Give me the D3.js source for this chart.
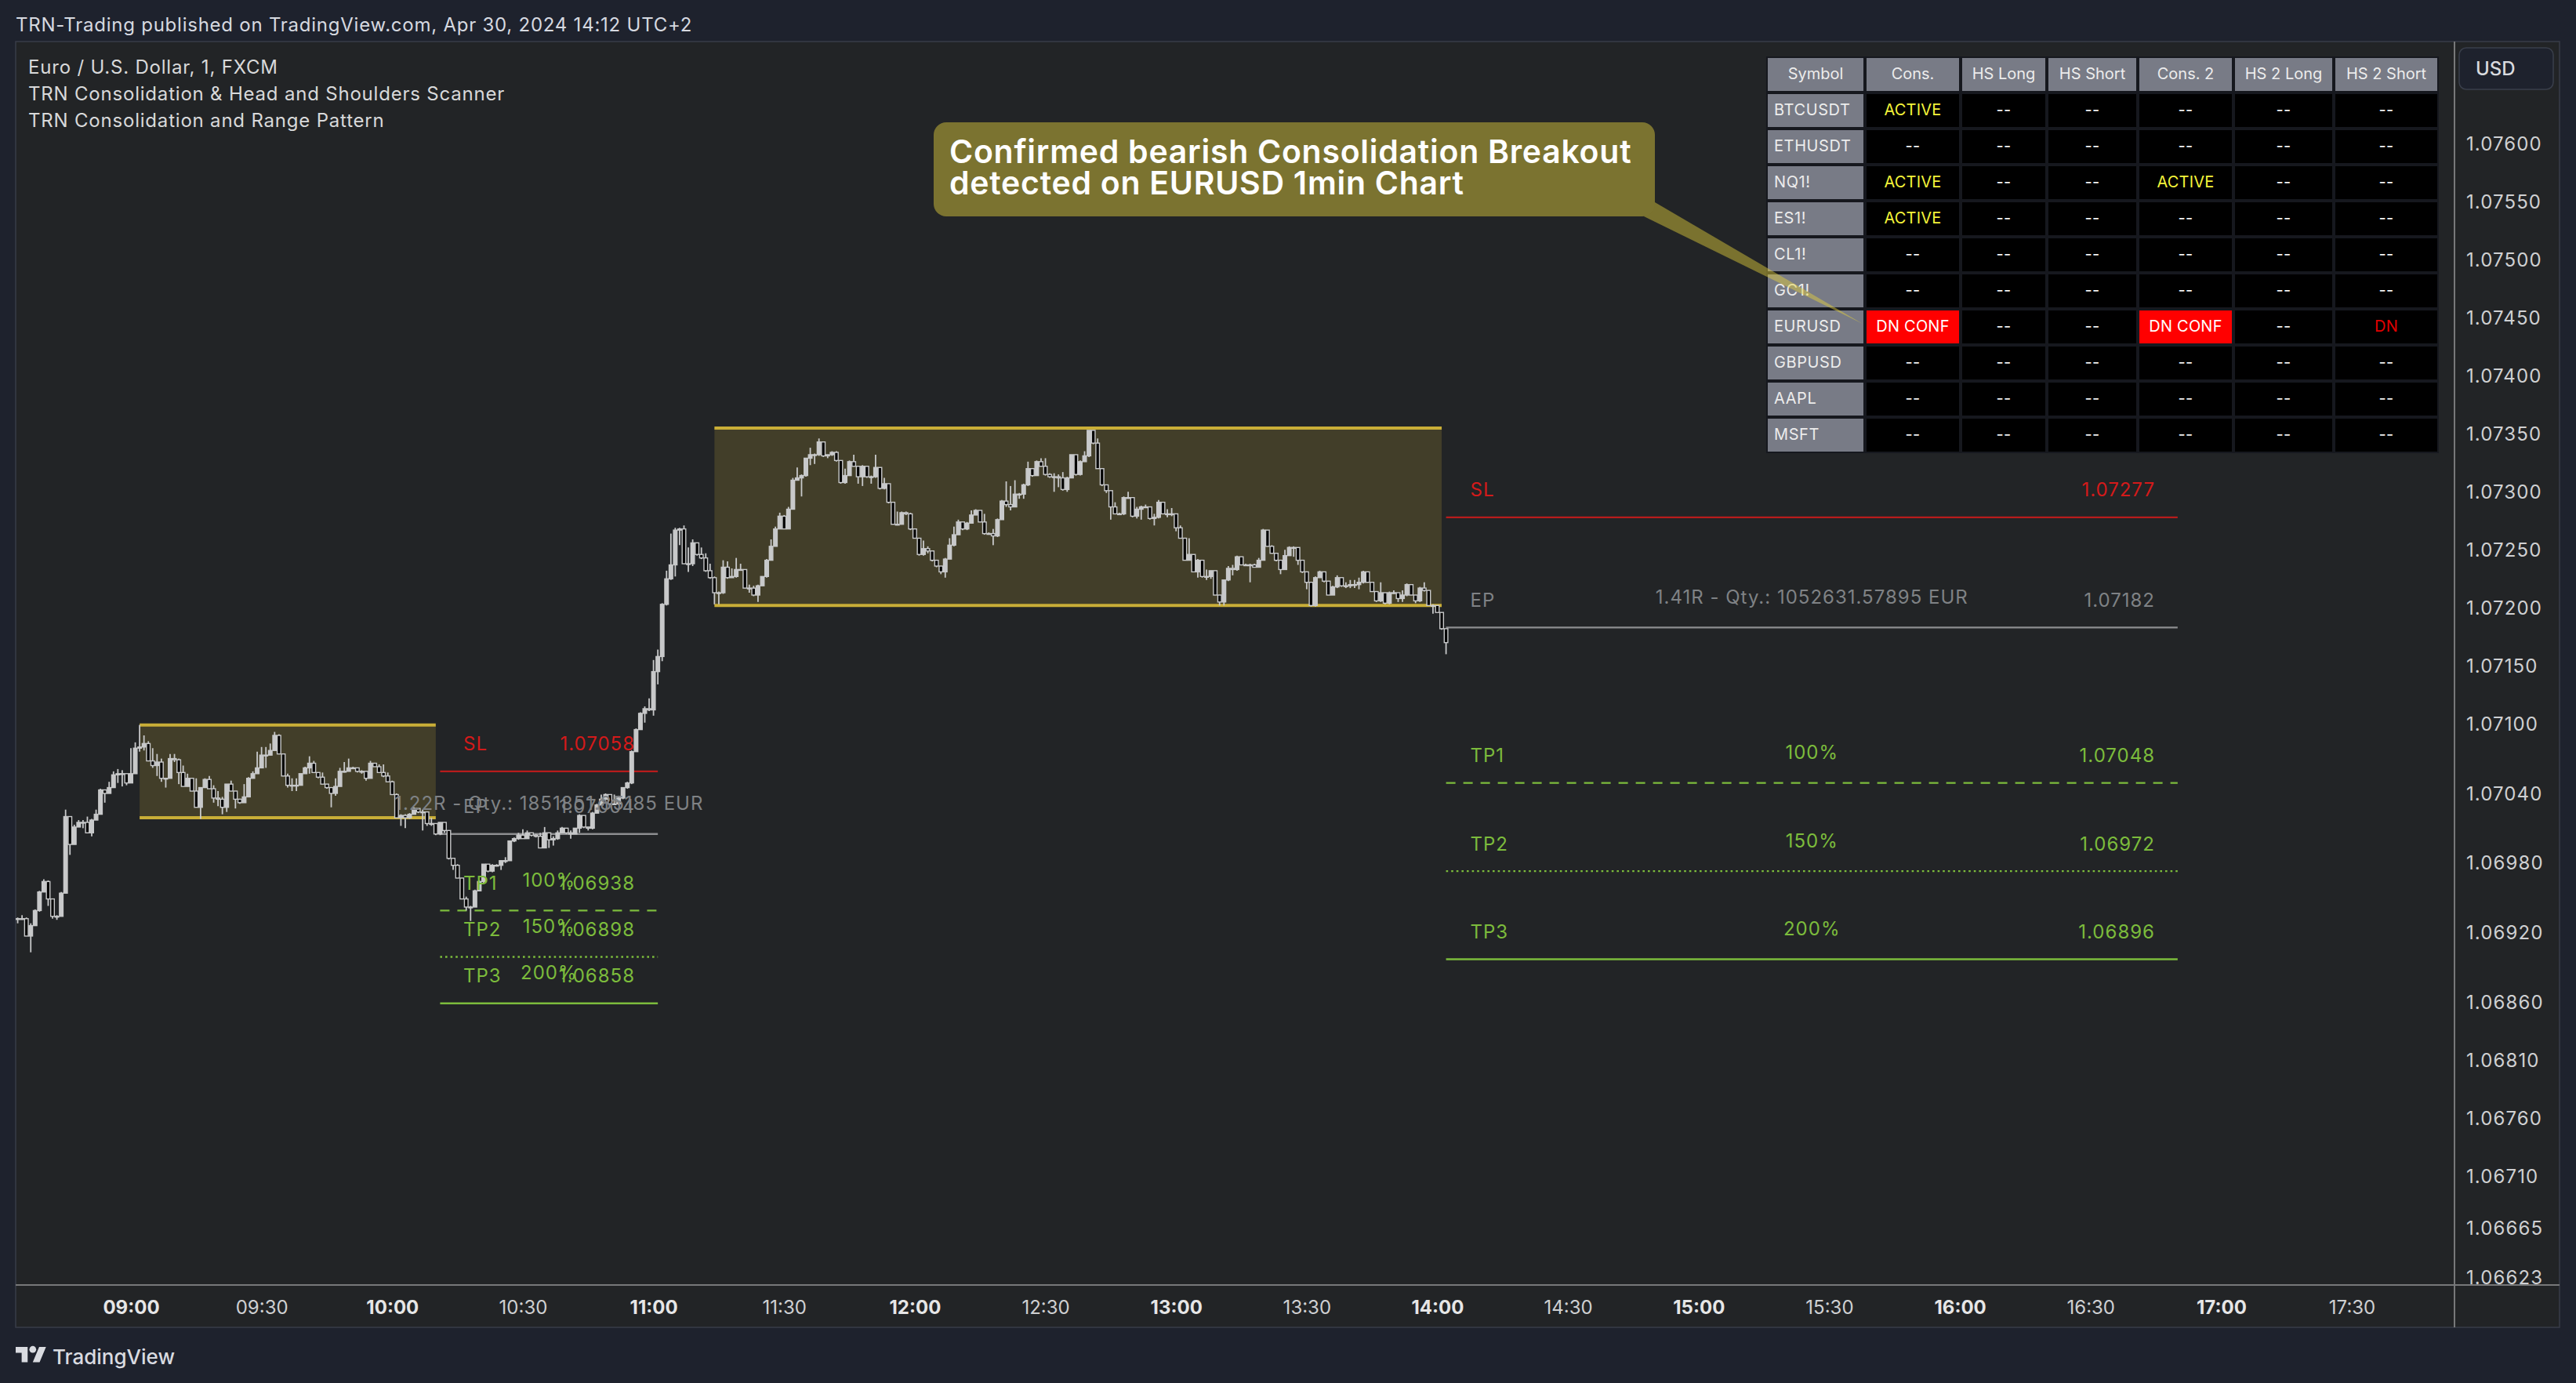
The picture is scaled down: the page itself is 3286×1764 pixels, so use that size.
<!DOCTYPE html>
<html><head><meta charset="utf-8">
<script src="https://cdn.jsdelivr.net/npm/d3@7/dist/d3.min.js"></script>
<style>
html,body{margin:0;padding:0;background:#1e222d;overflow:hidden}
svg{display:block}
text{font-family:Inter,"Noto Sans",sans-serif}
</style></head><body>
<script>
const firstMinute = 514; // 08:34, one candle per minute
const firstOpen = 1.06931;
const closes = [
1.06931,1.06931,1.06916,1.06925,1.06938,1.06954,1.06963,1.06948,1.06933,1.06933,
1.06953,1.07019,1.06995,1.07010,1.07014,1.07014,1.07005,1.07016,1.07021,1.07042,
1.07039,1.07044,1.07055,1.07056,1.07056,1.07048,1.07056,1.07078,1.07079,1.07082,
1.07067,1.07063,1.07066,1.07052,1.07052,1.07069,1.07068,1.07057,1.07045,1.07052,
1.07041,1.07027,1.07044,1.07051,1.07043,1.07035,1.07034,1.07027,1.07047,1.07041,
1.07034,1.07031,1.07036,1.07052,1.07056,1.07061,1.07072,1.07072,1.07076,1.07089,
1.07073,1.07054,1.07046,1.07046,1.07046,1.07056,1.07061,1.07065,1.07057,1.07053,
1.07047,1.07044,1.07039,1.07045,1.07058,1.07058,1.07061,1.07061,1.07058,1.07058,
1.07052,1.07065,1.07062,1.07057,1.07054,1.07049,1.07038,1.07018,1.07020,1.07018,
1.07021,1.07026,1.07023,1.07023,1.07013,1.07013,1.07004,1.07014,1.07007,1.06983,
1.06977,1.06966,1.06948,1.06941,1.06941,1.06955,1.06963,1.06978,1.06972,1.06977,
1.06977,1.06981,1.06981,1.06998,1.07000,1.07003,1.07000,1.07005,1.07003,1.07002,
1.06992,1.07005,1.06999,1.07000,1.07005,1.07009,1.07005,1.07004,1.07009,1.07020,
1.07010,1.07009,1.07022,1.07029,1.07034,1.07038,1.07030,1.07030,1.07035,1.07044,
1.07048,1.07075,1.07094,1.07108,1.07112,1.07111,1.07144,1.07157,1.07202,1.07224,
1.07236,1.07266,1.07267,1.07237,1.07237,1.07255,1.07245,1.07242,1.07231,1.07225,
1.07212,1.07212,1.07234,1.07225,1.07226,1.07232,1.07232,1.07216,1.07216,1.07210,
1.07218,1.07226,1.07240,1.07252,1.07267,1.07278,1.07267,1.07284,1.07309,1.07311,
1.07313,1.07328,1.07331,1.07331,1.07342,1.07330,1.07331,1.07333,1.07326,1.07307,
1.07313,1.07325,1.07321,1.07312,1.07321,1.07312,1.07312,1.07320,1.07302,1.07306,
1.07290,1.07271,1.07271,1.07281,1.07280,1.07267,1.07259,1.07245,1.07250,1.07248,
1.07240,1.07235,1.07230,1.07241,1.07253,1.07262,1.07273,1.07267,1.07272,1.07279,
1.07283,1.07273,1.07263,1.07263,1.07261,1.07275,1.07291,1.07288,1.07286,1.07297,
1.07297,1.07305,1.07319,1.07313,1.07325,1.07321,1.07314,1.07312,1.07312,1.07311,
1.07301,1.07311,1.07331,1.07314,1.07325,1.07330,1.07352,1.07341,1.07319,1.07305,
1.07300,1.07286,1.07280,1.07280,1.07294,1.07294,1.07278,1.07284,1.07286,1.07286,
1.07276,1.07277,1.07290,1.07280,1.07280,1.07280,1.07268,1.07259,1.07240,1.07245,
1.07230,1.07240,1.07226,1.07226,1.07231,1.07210,1.07204,1.07223,1.07233,1.07232,
1.07243,1.07236,1.07236,1.07236,1.07234,1.07240,1.07266,1.07252,1.07246,1.07240,
1.07232,1.07244,1.07251,1.07251,1.07240,1.07230,1.07221,1.07201,1.07225,1.07230,
1.07222,1.07210,1.07217,1.07225,1.07218,1.07218,1.07219,1.07219,1.07221,1.07230,
1.07221,1.07213,1.07205,1.07212,1.07203,1.07212,1.07212,1.07207,1.07210,1.07219,
1.07210,1.07205,1.07216,1.07214,1.07201,1.07201,1.07195,1.07181,1.07169
];
const highs = [
1.06932,1.06934,1.06932,1.06927,1.06939,1.06955,1.06965,1.06964,1.06948,1.06934,
1.06954,1.07025,1.07019,1.07012,1.07016,1.07016,1.07019,1.07017,1.07025,1.07043,
1.07042,1.07049,1.07058,1.07060,1.07059,1.07054,1.07078,1.07083,1.07098,1.07089,
1.07084,1.07078,1.07073,1.07069,1.07052,1.07073,1.07073,1.07069,1.07063,1.07056,
1.07052,1.07052,1.07044,1.07052,1.07054,1.07046,1.07041,1.07036,1.07047,1.07050,
1.07041,1.07034,1.07047,1.07053,1.07058,1.07075,1.07079,1.07079,1.07082,1.07092,
1.07090,1.07073,1.07056,1.07052,1.07052,1.07056,1.07062,1.07071,1.07067,1.07057,
1.07057,1.07047,1.07044,1.07052,1.07061,1.07066,1.07069,1.07062,1.07061,1.07059,
1.07058,1.07067,1.07065,1.07064,1.07064,1.07057,1.07050,1.07039,1.07021,1.07021,
1.07022,1.07027,1.07026,1.07025,1.07023,1.07018,1.07013,1.07014,1.07014,1.07007,
1.06983,1.06978,1.06966,1.06950,1.06942,1.06956,1.06964,1.06978,1.06978,1.06978,
1.06978,1.06981,1.06984,1.06998,1.07001,1.07005,1.07008,1.07007,1.07005,1.07004,
1.07005,1.07010,1.07005,1.07002,1.07007,1.07010,1.07009,1.07007,1.07009,1.07021,
1.07020,1.07010,1.07023,1.07030,1.07038,1.07039,1.07038,1.07038,1.07037,1.07044,
1.07049,1.07076,1.07095,1.07109,1.07114,1.07121,1.07154,1.07163,1.07203,1.07231,
1.07263,1.07268,1.07268,1.07270,1.07251,1.07258,1.07255,1.07251,1.07246,1.07237,
1.07226,1.07213,1.07240,1.07239,1.07233,1.07242,1.07237,1.07232,1.07219,1.07218,
1.07219,1.07226,1.07241,1.07258,1.07269,1.07281,1.07279,1.07286,1.07311,1.07320,
1.07314,1.07328,1.07337,1.07332,1.07345,1.07342,1.07331,1.07334,1.07334,1.07325,
1.07319,1.07326,1.07331,1.07321,1.07322,1.07321,1.07313,1.07331,1.07320,1.07311,
1.07306,1.07290,1.07282,1.07282,1.07282,1.07281,1.07267,1.07259,1.07257,1.07252,
1.07248,1.07240,1.07235,1.07242,1.07259,1.07269,1.07275,1.07273,1.07273,1.07283,
1.07284,1.07283,1.07280,1.07264,1.07267,1.07276,1.07292,1.07308,1.07304,1.07309,
1.07298,1.07306,1.07325,1.07319,1.07326,1.07328,1.07328,1.07315,1.07315,1.07314,
1.07316,1.07312,1.07331,1.07331,1.07326,1.07334,1.07352,1.07352,1.07345,1.07319,
1.07305,1.07300,1.07290,1.07281,1.07295,1.07299,1.07294,1.07286,1.07287,1.07288,
1.07284,1.07280,1.07292,1.07290,1.07284,1.07285,1.07280,1.07270,1.07259,1.07259,
1.07245,1.07241,1.07240,1.07232,1.07231,1.07231,1.07210,1.07223,1.07235,1.07236,
1.07244,1.07243,1.07237,1.07237,1.07237,1.07242,1.07267,1.07266,1.07253,1.07246,
1.07240,1.07249,1.07252,1.07252,1.07251,1.07240,1.07230,1.07221,1.07226,1.07231,
1.07230,1.07221,1.07218,1.07227,1.07225,1.07221,1.07223,1.07223,1.07225,1.07231,
1.07230,1.07221,1.07213,1.07221,1.07212,1.07213,1.07214,1.07212,1.07214,1.07220,
1.07219,1.07210,1.07217,1.07221,1.07213,1.07202,1.07201,1.07195,1.07181
];
const lows = [
1.06927,1.06930,1.06916,1.06902,1.06925,1.06937,1.06954,1.06942,1.06931,1.06930,
1.06933,1.06953,1.06986,1.06995,1.07010,1.07009,1.07005,1.07002,1.07016,1.07021,
1.07031,1.07039,1.07044,1.07048,1.07045,1.07046,1.07048,1.07056,1.07075,1.07076,
1.07067,1.07061,1.07054,1.07049,1.07044,1.07052,1.07066,1.07047,1.07045,1.07045,
1.07041,1.07027,1.07017,1.07044,1.07043,1.07031,1.07028,1.07021,1.07023,1.07041,
1.07026,1.07030,1.07031,1.07036,1.07052,1.07056,1.07061,1.07061,1.07072,1.07076,
1.07073,1.07054,1.07044,1.07041,1.07041,1.07046,1.07056,1.07056,1.07057,1.07052,
1.07047,1.07043,1.07027,1.07037,1.07045,1.07057,1.07058,1.07060,1.07057,1.07056,
1.07050,1.07052,1.07062,1.07057,1.07053,1.07049,1.07038,1.07018,1.07011,1.07009,
1.07017,1.07021,1.07022,1.07007,1.07011,1.07011,1.07003,1.07003,1.07005,1.06982,
1.06973,1.06966,1.06948,1.06938,1.06929,1.06941,1.06955,1.06962,1.06971,1.06971,
1.06976,1.06973,1.06979,1.06981,1.06997,1.06999,1.07000,1.07000,1.07002,1.07001,
1.06992,1.06992,1.06992,1.06994,1.06999,1.07005,1.07004,1.07000,1.07004,1.07005,
1.07009,1.07007,1.07008,1.07022,1.07029,1.07033,1.07029,1.07029,1.07029,1.07034,
1.07043,1.07047,1.07075,1.07094,1.07100,1.07110,1.07106,1.07133,1.07153,1.07201,
1.07223,1.07226,1.07253,1.07237,1.07230,1.07235,1.07244,1.07241,1.07230,1.07224,
1.07202,1.07202,1.07211,1.07224,1.07225,1.07225,1.07231,1.07216,1.07212,1.07209,
1.07204,1.07218,1.07225,1.07240,1.07252,1.07267,1.07267,1.07267,1.07284,1.07309,
1.07295,1.07312,1.07322,1.07323,1.07330,1.07329,1.07328,1.07330,1.07325,1.07306,
1.07306,1.07313,1.07321,1.07306,1.07304,1.07311,1.07306,1.07311,1.07301,1.07301,
1.07289,1.07271,1.07271,1.07271,1.07279,1.07266,1.07259,1.07244,1.07244,1.07246,
1.07239,1.07234,1.07228,1.07225,1.07241,1.07252,1.07262,1.07266,1.07266,1.07272,
1.07279,1.07273,1.07262,1.07262,1.07253,1.07260,1.07275,1.07286,1.07283,1.07286,
1.07293,1.07293,1.07304,1.07312,1.07313,1.07321,1.07313,1.07311,1.07299,1.07303,
1.07300,1.07299,1.07311,1.07313,1.07313,1.07325,1.07329,1.07340,1.07319,1.07304,
1.07298,1.07275,1.07280,1.07279,1.07279,1.07294,1.07277,1.07276,1.07275,1.07285,
1.07275,1.07270,1.07276,1.07280,1.07277,1.07278,1.07265,1.07259,1.07240,1.07240,
1.07230,1.07225,1.07225,1.07223,1.07224,1.07210,1.07201,1.07201,1.07222,1.07227,
1.07231,1.07236,1.07235,1.07221,1.07234,1.07234,1.07240,1.07252,1.07246,1.07239,
1.07228,1.07232,1.07244,1.07243,1.07236,1.07229,1.07215,1.07200,1.07200,1.07225,
1.07221,1.07210,1.07210,1.07216,1.07217,1.07216,1.07216,1.07216,1.07215,1.07220,
1.07221,1.07213,1.07204,1.07204,1.07202,1.07202,1.07211,1.07204,1.07204,1.07209,
1.07210,1.07203,1.07204,1.07213,1.07201,1.07194,1.07195,1.07180,1.07159
];

const priceTicks = [1.07600,1.07550,1.07500,1.07450,1.07400,1.07350,1.07300,1.07250,1.07200,1.07150,1.07100,1.07040,1.06980,1.06920,1.06860,1.06810,1.06760,1.06710,1.06665,1.06623];
const timeTickLabels = ["09:00","09:30","10:00","10:30","11:00","11:30","12:00","12:30","13:00","13:30","14:00","14:30","15:00","15:30","16:00","16:30","17:00","17:30"];
const timeTickMinutes = [540,570,600,630,660,690,720,750,780,810,840,870,900,930,960,990,1020,1050];

const boxStartMinutes = [542,674];
const boxEndMinutes = [610,841];
const boxTops = [1.07098,1.07354];
const boxBottoms = [1.07018,1.07201];

const planLabels = ["SL","EP","TP1","TP2","TP3"];
const planLeftValues = [1.07058,1.07004,1.06938,1.06898,1.06858];
const planRightValues = [1.07277,1.07182,1.07048,1.06972,1.06896];
const planLeftNotes = ["","1.22R - Qty.: 1851851.85185 EUR","100%","150%","200%"];
const planRightNotes = ["","1.41R - Qty.: 1052631.57895 EUR","100%","150%","200%"];
const planColors = ["#d41a1a","#7f8285","#7cbc3c","#7cbc3c","#7cbc3c"];
const planLineColors = ["#b71c1c","#8c8d8f","#7cbc3c","#7cbc3c","#7cbc3c"];
const planDashes = [null,null,"12 10","2.6 4",null];
const planLeftSpan = [611,661];
const planRightSpan = [842,1010];

const tableHeaders = ["Symbol","Cons.","HS Long","HS Short","Cons. 2","HS 2 Long","HS 2 Short"];
const tableSymbols = ["BTCUSDT","ETHUSDT","NQ1!","ES1!","CL1!","GC1!","EURUSD","GBPUSD","AAPL","MSFT"];
const tableCons = ["ACTIVE","--","ACTIVE","ACTIVE","--","--","DN CONF","--","--","--"];
const tableHsLong = ["--","--","--","--","--","--","--","--","--","--"];
const tableHsShort = ["--","--","--","--","--","--","--","--","--","--"];
const tableCons2 = ["--","--","ACTIVE","--","--","--","DN CONF","--","--","--"];
const tableHs2Long = ["--","--","--","--","--","--","--","--","--","--"];
const tableHs2Short = ["--","--","--","--","--","--","DN","--","--","--"];
const tableColumnEdges = [2255,2381,2503,2613,2729,2851,2979];
const tableColumnEnds = [2377,2499,2609,2725,2847,2975,3109];

const titleText = "TRN-Trading published on TradingView.com, Apr 30, 2024 14:12 UTC+2";
const legendLines = ["Euro / U.S. Dollar, 1, FXCM","TRN Consolidation & Head and Shoulders Scanner","TRN Consolidation and Range Pattern"];
const calloutLines = ["Confirmed bearish Consolidation Breakout","detected on EURUSD 1min Chart"];

const W = 3286, H = 1764;
const paneLeft = 20, paneTop = 53, axisX = 3131, axisY = 1639, frameRight = 3265, frameBottom = 1693;

const x = d3.scaleLinear().domain([540,600]).range([167,500.3]);
const y = d3.scaleLinear().domain([1.076,1.0671]).range([182,1498.7]);

const svg = d3.select("body").append("svg").attr("width",W).attr("height",H);
svg.append("rect").attr("width",W).attr("height",H).attr("fill","#1e222d");
svg.append("rect").attr("x",paneLeft).attr("y",paneTop).attr("width",frameRight-paneLeft).attr("height",frameBottom-paneTop)
  .attr("fill","#222426").attr("stroke","#383c48").attr("stroke-width",1.5);

const defs = svg.append("defs");
defs.append("clipPath").attr("id","pane").append("rect").attr("x",paneLeft).attr("y",paneTop).attr("width",axisX-paneLeft).attr("height",axisY-paneTop);
defs.append("clipPath").attr("id","priceAxis").append("rect").attr("x",axisX).attr("y",paneTop).attr("width",frameRight-axisX).attr("height",axisY-paneTop);

// title
svg.append("text").attr("x",20).attr("y",31).attr("dominant-baseline","central").attr("font-size",24).attr("letter-spacing",0.76).attr("fill","#d6d9e0").text(titleText);

const pane = svg.append("g").attr("clip-path","url(#pane)");

// consolidation boxes
const boxes = pane.append("g").selectAll("g").data(boxTops).join("g");
boxes.append("rect").attr("x",(d,i)=>x(boxStartMinutes[i])).attr("width",(d,i)=>x(boxEndMinutes[i])-x(boxStartMinutes[i]))
  .attr("y",d=>y(d)).attr("height",(d,i)=>y(boxBottoms[i])-y(d)).attr("fill","#c5ab35").attr("fill-opacity",0.2);
boxes.append("line").attr("x1",(d,i)=>x(boxStartMinutes[i])).attr("x2",(d,i)=>x(boxEndMinutes[i])).attr("y1",d=>y(d)).attr("y2",d=>y(d))
  .attr("stroke","#c9ae37").attr("stroke-width",4);
boxes.append("line").attr("x1",(d,i)=>x(boxStartMinutes[i])).attr("x2",(d,i)=>x(boxEndMinutes[i])).attr("y1",(d,i)=>y(boxBottoms[i])).attr("y2",(d,i)=>y(boxBottoms[i]))
  .attr("stroke","#c9ae37").attr("stroke-width",4);

// plan lines
function drawPlanLines(values, span){
  pane.append("g").selectAll("line").data(values).join("line")
    .attr("x1",x(span[0])).attr("x2",x(span[1])).attr("y1",d=>y(d)).attr("y2",d=>y(d))
    .attr("stroke",(d,i)=>planLineColors[i]).attr("stroke-width",2.4)
    .attr("stroke-dasharray",(d,i)=>planDashes[i]);
}
drawPlanLines(planLeftValues,planLeftSpan);
drawPlanLines(planRightValues,planRightSpan);

// candles
const candleData = closes.map((c,i)=>({minute:firstMinute+i,open:i?closes[i-1]:firstOpen,close:c,high:highs[i],low:lows[i]}));
const candleColor = "#c8c9ca";
const candleG = pane.append("g").selectAll("g").data(candleData).join("g");
candleG.append("line").attr("x1",d=>x(d.minute)).attr("x2",d=>x(d.minute))
  .attr("y1",d=>y(Math.max(d.high,d.open,d.close))).attr("y2",d=>y(Math.min(d.low,d.open,d.close)))
  .attr("stroke",candleColor).attr("stroke-width",1.8);
candleG.append("rect")
  .attr("x",d=>x(d.minute)-2.3).attr("width",4.6)
  .attr("y",d=>y(Math.max(d.open,d.close))).attr("height",d=>Math.max(1,Math.abs(y(d.open)-y(d.close))))
  .attr("fill",d=>d.close>=d.open?candleColor:"#000")
  .attr("stroke",candleColor).attr("stroke-width",1.4);

// plan labels
function drawPlanText(values, notes, span, lx, rx){
  const mid = (x(span[0])+x(span[1]))/2;
  const g = pane.append("g").attr("font-size",24).attr("letter-spacing",1);
  g.selectAll(".lab").data(planLabels).join("text").attr("x",lx).attr("y",(d,i)=>y(values[i])-35)
    .attr("dominant-baseline","central").attr("fill",(d,i)=>planColors[i]).text(d=>d);
  g.selectAll(".val").data(values).join("text").attr("x",rx).attr("y",d=>y(d)-35).attr("text-anchor","end")
    .attr("dominant-baseline","central").attr("fill",(d,i)=>planColors[i]).text(d=>d.toFixed(5));
  g.selectAll(".note").data(notes).join("text").attr("x",mid).attr("y",(d,i)=>y(values[i])-39).attr("text-anchor","middle")
    .attr("dominant-baseline","central").attr("fill",(d,i)=>planColors[i]).text(d=>d);
}
drawPlanText(planLeftValues,planLeftNotes,planLeftSpan,591,810);
drawPlanText(planRightValues,planRightNotes,planRightSpan,1875.5,2749);

// legend
svg.append("g").selectAll("text").data(legendLines).join("text").attr("x",36).attr("y",(d,i)=>85+i*34)
  .attr("dominant-baseline","central").attr("font-size",24).attr("letter-spacing",0.8).attr("fill","#d8d9da").text(d=>d);

// axes frame lines
svg.append("line").attr("x1",paneLeft).attr("x2",frameRight).attr("y1",axisY).attr("y2",axisY).attr("stroke","#777879").attr("stroke-width",2);
svg.append("line").attr("x1",axisX).attr("x2",axisX).attr("y1",paneTop).attr("y2",frameBottom).attr("stroke","#777879").attr("stroke-width",2);

// price axis
const priceAxis = d3.axisRight(y).tickValues(priceTicks).tickFormat(d3.format(".5f")).tickSize(0).tickPadding(0);
const pa = svg.append("g").attr("clip-path","url(#priceAxis)").append("g").attr("transform","translate(3146,2)").call(priceAxis);
pa.select(".domain").remove();
pa.selectAll("text").attr("font-size",24).attr("letter-spacing",1.1).attr("fill","#cfd0d2").attr("font-family","Inter");

// time axis
const timeAxis = d3.axisBottom(x).tickValues(timeTickMinutes).tickFormat((d,i)=>timeTickLabels[i]).tickSize(0).tickPadding(0);
const ta = svg.append("g").attr("transform","translate(0,1659)").call(timeAxis);
ta.select(".domain").remove();
ta.selectAll("text").attr("font-size",24).attr("font-family","Inter").attr("fill",(d,i)=>i%2?"#cfd0d2":"#e6e6e6").attr("font-weight",(d,i)=>i%2?400:700);

// USD box
svg.append("rect").attr("x",3137).attr("y",61).attr("width",120).attr("height",53).attr("rx",9).attr("fill","#1e222d").attr("stroke","#3a3f4b").attr("stroke-width",1.5);
svg.append("text").attr("x",3158).attr("y",87).attr("dominant-baseline","central").attr("font-size",24).attr("font-weight",500).attr("fill","#d8dade").text("USD");

// scanner table
const tableColumns = [tableSymbols,tableCons,tableHsLong,tableHsShort,tableCons2,tableHs2Long,tableHs2Short];
const rowY = i=>120+46*i, rowH = 42;
const tbl = svg.append("g").attr("font-size",20);
tbl.append("rect").attr("x",2253).attr("y",72).attr("width",858).attr("height",506).attr("fill","#16181e");
const head = tbl.append("g").selectAll("g").data(tableHeaders).join("g");
head.append("rect").attr("x",(d,i)=>tableColumnEdges[i]).attr("y",74).attr("width",(d,i)=>tableColumnEnds[i]-tableColumnEdges[i]).attr("height",42).attr("fill","#787b86");
head.append("text").attr("x",(d,i)=>(tableColumnEdges[i]+tableColumnEnds[i])/2).attr("y",94).attr("text-anchor","middle").attr("dominant-baseline","central").attr("fill","#ececec").text(d=>d);
tableColumns.forEach((col,c)=>{
  const g = tbl.append("g").selectAll("g").data(col).join("g");
  g.append("rect").attr("x",tableColumnEdges[c]).attr("width",tableColumnEnds[c]-tableColumnEdges[c]).attr("y",(d,i)=>rowY(i)).attr("height",rowH)
    .attr("fill",d=>c===0?"#787b86":(d==="DN CONF"?"#ff0000":"#000"));
  g.append("text").attr("x",c===0?2263:(tableColumnEdges[c]+tableColumnEnds[c])/2).attr("y",(d,i)=>rowY(i)+20)
    .attr("text-anchor",c===0?"start":"middle").attr("dominant-baseline","central").attr("letter-spacing",c===0?0.6:0.2)
    .attr("fill",d=>c===0?"#ececec":d==="ACTIVE"?"#f5f53a":d==="DN"?"#e00000":"#ffffff").text(d=>d);
});

// callout
const callout = svg.append("g");
callout.append("path")
  .attr("d",d3.line()([[2111,258],[2376,413],[2097,276]]))
  .attr("fill","#e7d33c").attr("fill-opacity",0.45);
callout.append("rect").attr("x",1191).attr("y",156).attr("width",920).attr("height",120).attr("rx",16).attr("fill","#7b7330");
callout.selectAll("text").data(calloutLines).join("text").attr("x",1211).attr("y",(d,i)=>193+i*40)
  .attr("dominant-baseline","central").attr("font-size",41).attr("font-weight",600).attr("letter-spacing",0.72).attr("fill","#fff").text(d=>d);

// brand
const logo = svg.append("g").attr("transform","translate(20,1713.6) scale(1.09)").attr("fill","#d9dbe0");
logo.append("path").attr("d","M14 22H7V11H0V4h14v18zM28 22h-8l7.5-18h8L28 22z");
logo.append("circle").attr("cx",20).attr("cy",7).attr("r",4);
svg.append("text").attr("x",67).attr("y",1730).attr("dominant-baseline","central").attr("font-size",26).attr("font-weight",500).attr("fill","#d9dbe0").text("TradingView");
</script>
</body></html>
